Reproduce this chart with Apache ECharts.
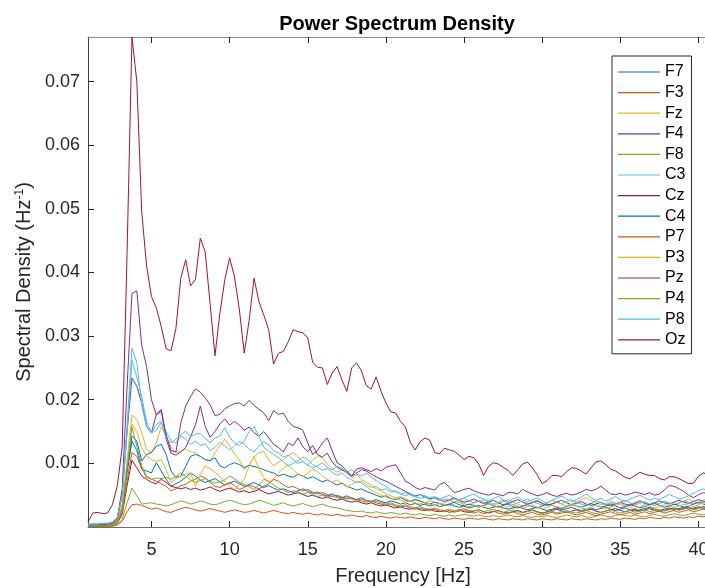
<!DOCTYPE html>
<html><head><meta charset="utf-8">
<script src="https://cdn.jsdelivr.net/npm/echarts@6/dist/echarts.min.js"></script>
<style>html,body{margin:0;padding:0;background:#fff}#c{width:705px;height:588px}</style>
</head><body><div id="c"></div>
<script>
const freq = [0.9375,1.25,1.5625,1.875,2.1875,2.5,2.8125,3.125,3.4375,3.75,4.0625,4.375,4.6875,5,
5.3125,5.625,5.9375,6.25,6.5625,6.875,7.1875,7.5,7.8125,8.125,8.4375,8.75,9.0625,9.375,9.6875,10,
10.3125,10.625,10.9375,11.25,11.5625,11.875,12.1875,12.5,12.8125,13.125,13.4375,13.75,14.0625,14.375,14.6875,15,
15.3125,15.625,15.9375,16.25,16.5625,16.875,17.1875,17.5,17.8125,18.125,18.4375,18.75,19.0625,19.375,19.6875,20,
20.3125,20.625,20.9375,21.25,21.5625,21.875,22.1875,22.5,22.8125,23.125,23.4375,23.75,24.0625,24.375,24.6875,25,
25.3125,25.625,25.9375,26.25,26.5625,26.875,27.1875,27.5,27.8125,28.125,28.4375,28.75,29.0625,29.375,29.6875,30,
30.3125,30.625,30.9375,31.25,31.5625,31.875,32.1875,32.5,32.8125,33.125,33.4375,33.75,34.0625,34.375,34.6875,35,
35.3125,35.625,35.9375,36.25,36.5625,36.875,37.1875,37.5,37.8125,38.125,38.4375,38.75,39.0625,39.375,39.6875,40,
40.3125,40.625,40.9375,41.25];

const channels = ['F7','F3','Fz','F4','F8','C3','Cz','C4','P7','P3','Pz','P4','P8','Oz'];
const colors = ['#0072BD','#D95319','#EDB120','#7E2F8E','#77AC30','#4DBEEE','#A2142F','#0072BD','#D95319','#EDB120','#7E2F8E','#77AC30','#4DBEEE','#A2142F'];
const xTicks = [5,10,15,20,25,30,35,40];
const yTicks = [0.01,0.02,0.03,0.04,0.05,0.06,0.07];

const F7 = [0.0002,0.0002,0.0002,0.0002,0.0003,0.0004,0.0008,0.0028,0.0085,0.0135,
0.0120,0.0091,0.0088,0.0085,0.0101,0.0088,0.0075,0.0064,0.0068,0.0072,
0.0078,0.0085,0.0080,0.0074,0.0070,0.0073,0.0076,0.0071,0.0066,0.0069,
0.0072,0.0068,0.0064,0.0067,0.0070,0.0066,0.0062,0.0065,0.0061,0.0058,
0.0060,0.0057,0.0054,0.0057,0.0060,0.0056,0.0053,0.0055,0.0051,0.0049,
0.0052,0.0048,0.0046,0.0049,0.0045,0.0043,0.0046,0.0042,0.0040,0.0043,
0.0040,0.0038,0.0041,0.0039,0.0036,0.0038,0.0035,0.0037,0.0034,0.0036,
0.0033,0.0035,0.0032,0.0034,0.0036,0.0033,0.0031,0.0033,0.0030,0.0032,
0.0034,0.0031,0.0029,0.0031,0.0033,0.0030,0.0028,0.0030,0.0032,0.0029,
0.0027,0.0029,0.0031,0.0028,0.0026,0.0028,0.0030,0.0027,0.0029,0.0031,
0.0028,0.0026,0.0028,0.0030,0.0027,0.0029,0.0031,0.0028,0.0026,0.0028,
0.0030,0.0027,0.0025,0.0027,0.0029,0.0031,0.0028,0.0026,0.0028,0.0030,
0.0027,0.0029,0.0031,0.0028,0.0030,0.0032,0.0029,0.0031,0.0033,0.0030];

const F3 = [0.0001,0.0001,0.0001,0.0001,0.0001,0.0001,0.0003,0.0009,0.0024,0.0035,
0.0036,0.0034,0.0031,0.0028,0.0030,0.0027,0.0024,0.0023,0.0026,0.0029,
0.0031,0.0029,0.0027,0.0025,0.0027,0.0029,0.0027,0.0025,0.0023,0.0025,
0.0027,0.0025,0.0023,0.0024,0.0026,0.0024,0.0022,0.0024,0.0026,0.0024,
0.0022,0.0021,0.0023,0.0021,0.0020,0.0022,0.0020,0.0019,0.0021,0.0019,
0.0018,0.0020,0.0018,0.0017,0.0019,0.0017,0.0016,0.0018,0.0016,0.0015,
0.0017,0.0015,0.0014,0.0016,0.0015,0.0014,0.0016,0.0014,0.0013,0.0015,
0.0014,0.0013,0.0015,0.0013,0.0012,0.0014,0.0013,0.0012,0.0014,0.0013,
0.0012,0.0014,0.0012,0.0011,0.0013,0.0012,0.0011,0.0013,0.0012,0.0011,
0.0013,0.0012,0.0011,0.0013,0.0012,0.0011,0.0013,0.0012,0.0011,0.0013,
0.0012,0.0011,0.0013,0.0012,0.0011,0.0013,0.0012,0.0014,0.0013,0.0012,
0.0014,0.0013,0.0012,0.0014,0.0013,0.0015,0.0014,0.0013,0.0015,0.0014,
0.0016,0.0015,0.0014,0.0016,0.0015,0.0017,0.0016,0.0018,0.0017,0.0016];

const Fz = [0.0003,0.0003,0.0003,0.0003,0.0004,0.0005,0.0010,0.0035,0.0105,0.0176,
0.0169,0.0148,0.0122,0.0117,0.0132,0.0158,0.0143,0.0125,0.0117,0.0119,
0.0122,0.0118,0.0117,0.0111,0.0106,0.0104,0.0117,0.0127,0.0138,0.0128,
0.0115,0.0105,0.0091,0.0098,0.0110,0.0117,0.0119,0.0105,0.0096,0.0102,
0.0106,0.0112,0.0117,0.0110,0.0103,0.0097,0.0105,0.0112,0.0108,0.0099,
0.0092,0.0086,0.0090,0.0084,0.0078,0.0082,0.0075,0.0070,0.0066,0.0060,
0.0057,0.0052,0.0049,0.0046,0.0048,0.0044,0.0041,0.0043,0.0040,0.0038,
0.0041,0.0039,0.0036,0.0038,0.0041,0.0044,0.0040,0.0037,0.0035,0.0038,
0.0042,0.0039,0.0036,0.0034,0.0037,0.0040,0.0043,0.0039,0.0036,0.0033,
0.0036,0.0039,0.0042,0.0038,0.0035,0.0037,0.0040,0.0036,0.0033,0.0036,
0.0039,0.0043,0.0046,0.0042,0.0038,0.0035,0.0037,0.0041,0.0038,0.0035,
0.0033,0.0036,0.0039,0.0042,0.0039,0.0036,0.0034,0.0037,0.0040,0.0038,
0.0035,0.0038,0.0041,0.0044,0.0040,0.0037,0.0039,0.0042,0.0045,0.0043];

const F4 = [0.0003,0.0003,0.0003,0.0003,0.0004,0.0005,0.0012,0.0050,0.0150,0.0234,
0.0221,0.0195,0.0158,0.0148,0.0177,0.0185,0.0138,0.0116,0.0113,0.0118,
0.0125,0.0142,0.0160,0.0190,0.0158,0.0141,0.0150,0.0162,0.0170,0.0160,
0.0166,0.0160,0.0152,0.0157,0.0148,0.0143,0.0150,0.0140,0.0130,0.0125,
0.0118,0.0132,0.0128,0.0140,0.0126,0.0118,0.0128,0.0114,0.0110,0.0116,
0.0102,0.0094,0.0090,0.0086,0.0080,0.0085,0.0090,0.0088,0.0083,0.0079,
0.0075,0.0072,0.0068,0.0064,0.0060,0.0056,0.0052,0.0049,0.0051,0.0047,
0.0044,0.0046,0.0043,0.0040,0.0043,0.0046,0.0042,0.0039,0.0041,0.0044,
0.0040,0.0037,0.0039,0.0042,0.0038,0.0035,0.0037,0.0040,0.0043,0.0039,
0.0036,0.0038,0.0041,0.0037,0.0034,0.0036,0.0039,0.0042,0.0038,0.0035,
0.0037,0.0040,0.0036,0.0034,0.0036,0.0039,0.0035,0.0033,0.0036,0.0039,
0.0036,0.0034,0.0037,0.0040,0.0037,0.0035,0.0038,0.0041,0.0038,0.0036,
0.0039,0.0042,0.0039,0.0037,0.0040,0.0043,0.0040,0.0038,0.0041,0.0044];

const F8 = [0.0001,0.0001,0.0001,0.0001,0.0001,0.0002,0.0004,0.0012,0.0038,0.0061,
0.0049,0.0036,0.0037,0.0038,0.0036,0.0035,0.0033,0.0035,0.0038,0.0041,
0.0039,0.0036,0.0038,0.0041,0.0039,0.0036,0.0035,0.0037,0.0040,0.0042,
0.0040,0.0037,0.0035,0.0036,0.0039,0.0042,0.0040,0.0037,0.0034,0.0036,
0.0038,0.0035,0.0033,0.0035,0.0037,0.0034,0.0032,0.0034,0.0036,0.0033,
0.0031,0.0030,0.0028,0.0026,0.0025,0.0024,0.0025,0.0023,0.0022,0.0024,
0.0022,0.0021,0.0023,0.0021,0.0020,0.0022,0.0020,0.0019,0.0021,0.0019,
0.0018,0.0020,0.0018,0.0017,0.0019,0.0017,0.0018,0.0020,0.0018,0.0017,
0.0019,0.0017,0.0016,0.0018,0.0016,0.0017,0.0019,0.0017,0.0016,0.0018,
0.0016,0.0015,0.0017,0.0016,0.0018,0.0016,0.0015,0.0017,0.0019,0.0017,
0.0016,0.0018,0.0016,0.0015,0.0017,0.0019,0.0017,0.0016,0.0018,0.0020,
0.0018,0.0017,0.0019,0.0017,0.0016,0.0018,0.0020,0.0018,0.0017,0.0019,
0.0021,0.0019,0.0018,0.0020,0.0022,0.0020,0.0019,0.0021,0.0023,0.0021];

const C3 = [0.0004,0.0005,0.0005,0.0005,0.0006,0.0007,0.0014,0.0048,0.0150,0.0262,
0.0235,0.0205,0.0165,0.0148,0.0152,0.0164,0.0150,0.0135,0.0132,0.0143,
0.0138,0.0130,0.0135,0.0128,0.0131,0.0120,0.0125,0.0133,0.0128,0.0121,
0.0127,0.0135,0.0130,0.0122,0.0118,0.0127,0.0134,0.0129,0.0120,0.0116,
0.0110,0.0113,0.0106,0.0100,0.0103,0.0097,0.0093,0.0096,0.0101,0.0094,
0.0090,0.0095,0.0092,0.0086,0.0090,0.0083,0.0080,0.0085,0.0078,0.0073,
0.0068,0.0064,0.0058,0.0055,0.0052,0.0049,0.0052,0.0048,0.0045,0.0047,
0.0043,0.0045,0.0041,0.0044,0.0042,0.0039,0.0042,0.0045,0.0041,0.0038,
0.0040,0.0043,0.0039,0.0036,0.0039,0.0042,0.0038,0.0035,0.0038,0.0041,
0.0044,0.0040,0.0037,0.0035,0.0038,0.0042,0.0039,0.0036,0.0040,0.0043,
0.0039,0.0036,0.0034,0.0037,0.0041,0.0038,0.0035,0.0038,0.0036,0.0039,
0.0042,0.0038,0.0035,0.0037,0.0040,0.0036,0.0034,0.0037,0.0040,0.0038,
0.0035,0.0037,0.0041,0.0039,0.0036,0.0038,0.0042,0.0045,0.0043,0.0040];

const Cz = [0.0002,0.0002,0.0002,0.0002,0.0002,0.0003,0.0006,0.0020,0.0065,0.0105,
0.0093,0.0080,0.0075,0.0070,0.0068,0.0075,0.0070,0.0064,0.0062,0.0060,
0.0062,0.0059,0.0061,0.0058,0.0060,0.0063,0.0059,0.0056,0.0059,0.0061,
0.0058,0.0055,0.0057,0.0054,0.0056,0.0059,0.0055,0.0052,0.0054,0.0056,
0.0053,0.0050,0.0052,0.0054,0.0051,0.0048,0.0050,0.0047,0.0045,0.0047,
0.0044,0.0042,0.0044,0.0041,0.0039,0.0041,0.0038,0.0036,0.0038,0.0035,
0.0033,0.0035,0.0032,0.0030,0.0032,0.0029,0.0028,0.0030,0.0027,0.0026,
0.0028,0.0025,0.0024,0.0026,0.0023,0.0025,0.0027,0.0024,0.0023,0.0025,
0.0027,0.0024,0.0022,0.0024,0.0026,0.0023,0.0022,0.0024,0.0026,0.0023,
0.0025,0.0027,0.0024,0.0022,0.0024,0.0026,0.0028,0.0025,0.0023,0.0025,
0.0027,0.0024,0.0026,0.0028,0.0025,0.0023,0.0025,0.0027,0.0029,0.0026,
0.0024,0.0026,0.0028,0.0025,0.0027,0.0029,0.0026,0.0024,0.0026,0.0028,
0.0030,0.0027,0.0029,0.0031,0.0028,0.0030,0.0032,0.0029,0.0031,0.0033];

const C4 = [0.0002,0.0002,0.0002,0.0003,0.0003,0.0004,0.0008,0.0030,0.0090,0.0143,
0.0135,0.0104,0.0114,0.0117,0.0127,0.0130,0.0114,0.0088,0.0078,0.0080,
0.0095,0.0111,0.0114,0.0111,0.0106,0.0104,0.0109,0.0096,0.0093,0.0098,
0.0101,0.0098,0.0093,0.0097,0.0095,0.0093,0.0090,0.0087,0.0085,0.0080,
0.0083,0.0080,0.0078,0.0083,0.0080,0.0076,0.0079,0.0075,0.0071,0.0074,
0.0070,0.0066,0.0069,0.0064,0.0061,0.0058,0.0060,0.0056,0.0053,0.0050,
0.0047,0.0049,0.0045,0.0043,0.0046,0.0042,0.0040,0.0043,0.0041,0.0038,
0.0036,0.0039,0.0037,0.0034,0.0036,0.0039,0.0035,0.0033,0.0036,0.0034,
0.0031,0.0034,0.0037,0.0033,0.0031,0.0034,0.0036,0.0032,0.0030,0.0033,
0.0035,0.0032,0.0030,0.0033,0.0036,0.0034,0.0031,0.0029,0.0032,0.0035,
0.0033,0.0031,0.0034,0.0037,0.0034,0.0031,0.0033,0.0036,0.0033,0.0030,
0.0032,0.0035,0.0033,0.0030,0.0032,0.0035,0.0038,0.0034,0.0031,0.0033,
0.0036,0.0034,0.0031,0.0033,0.0036,0.0039,0.0036,0.0033,0.0035,0.0038];

const P7 = [0.0002,0.0002,0.0002,0.0002,0.0002,0.0003,0.0006,0.0022,0.0072,0.0117,
0.0111,0.0092,0.0078,0.0075,0.0072,0.0068,0.0064,0.0057,0.0060,0.0065,
0.0067,0.0072,0.0075,0.0080,0.0077,0.0070,0.0064,0.0062,0.0066,0.0070,
0.0065,0.0059,0.0062,0.0066,0.0063,0.0060,0.0064,0.0068,0.0075,0.0072,
0.0066,0.0062,0.0064,0.0060,0.0057,0.0059,0.0055,0.0052,0.0054,0.0051,
0.0048,0.0050,0.0047,0.0044,0.0046,0.0043,0.0041,0.0039,0.0041,0.0038,
0.0036,0.0034,0.0036,0.0033,0.0031,0.0033,0.0030,0.0028,0.0030,0.0027,
0.0026,0.0028,0.0025,0.0024,0.0026,0.0023,0.0025,0.0027,0.0024,0.0022,
0.0024,0.0021,0.0023,0.0025,0.0022,0.0020,0.0022,0.0024,0.0021,0.0019,
0.0021,0.0023,0.0020,0.0019,0.0021,0.0023,0.0020,0.0022,0.0024,0.0021,
0.0019,0.0021,0.0023,0.0020,0.0018,0.0020,0.0022,0.0024,0.0021,0.0019,
0.0021,0.0023,0.0020,0.0022,0.0024,0.0021,0.0023,0.0025,0.0022,0.0024,
0.0026,0.0023,0.0025,0.0027,0.0024,0.0026,0.0028,0.0025,0.0027,0.0029];

const P3 = [0.0002,0.0003,0.0003,0.0003,0.0003,0.0004,0.0009,0.0033,0.0098,0.0162,
0.0150,0.0124,0.0112,0.0106,0.0103,0.0106,0.0090,0.0070,0.0076,0.0080,
0.0083,0.0085,0.0064,0.0083,0.0096,0.0092,0.0086,0.0079,0.0072,0.0064,
0.0059,0.0067,0.0075,0.0096,0.0111,0.0091,0.0078,0.0070,0.0076,0.0085,
0.0092,0.0098,0.0090,0.0083,0.0079,0.0085,0.0091,0.0087,0.0080,0.0075,
0.0070,0.0074,0.0068,0.0063,0.0067,0.0072,0.0069,0.0063,0.0058,0.0054,
0.0050,0.0047,0.0044,0.0046,0.0042,0.0039,0.0041,0.0038,0.0036,0.0039,
0.0036,0.0034,0.0037,0.0035,0.0033,0.0036,0.0039,0.0035,0.0032,0.0034,
0.0031,0.0033,0.0036,0.0034,0.0031,0.0029,0.0032,0.0035,0.0033,0.0030,
0.0032,0.0035,0.0031,0.0029,0.0031,0.0034,0.0032,0.0030,0.0033,0.0036,
0.0033,0.0030,0.0028,0.0031,0.0034,0.0032,0.0029,0.0031,0.0034,0.0037,
0.0034,0.0031,0.0029,0.0032,0.0035,0.0033,0.0030,0.0032,0.0035,0.0033,
0.0031,0.0033,0.0036,0.0034,0.0032,0.0035,0.0038,0.0036,0.0034,0.0037];

const Pz = [0.0003,0.0003,0.0003,0.0004,0.0004,0.0006,0.0014,0.0060,0.0220,0.0367,
0.0371,0.0285,0.0252,0.0200,0.0176,0.0182,0.0145,0.0120,0.0118,0.0163,
0.0190,0.0205,0.0217,0.0212,0.0203,0.0192,0.0175,0.0177,0.0186,0.0190,
0.0194,0.0195,0.0190,0.0199,0.0191,0.0185,0.0179,0.0167,0.0183,0.0177,
0.0179,0.0166,0.0158,0.0156,0.0152,0.0132,0.0114,0.0120,0.0132,0.0140,
0.0120,0.0101,0.0096,0.0088,0.0080,0.0091,0.0093,0.0090,0.0087,0.0092,
0.0088,0.0094,0.0096,0.0098,0.0085,0.0072,0.0068,0.0062,0.0059,0.0062,
0.0060,0.0058,0.0067,0.0070,0.0062,0.0054,0.0056,0.0059,0.0061,0.0057,
0.0054,0.0052,0.0050,0.0053,0.0051,0.0049,0.0054,0.0054,0.0052,0.0059,
0.0055,0.0052,0.0049,0.0051,0.0054,0.0050,0.0048,0.0051,0.0053,0.0050,
0.0052,0.0055,0.0059,0.0057,0.0059,0.0064,0.0058,0.0052,0.0051,0.0053,
0.0050,0.0052,0.0055,0.0053,0.0051,0.0054,0.0050,0.0052,0.0058,0.0065,
0.0064,0.0060,0.0056,0.0050,0.0046,0.0051,0.0054,0.0052,0.0055,0.0057];

const P4 = [0.0002,0.0002,0.0002,0.0002,0.0003,0.0003,0.0007,0.0028,0.0092,0.0157,
0.0127,0.0096,0.0080,0.0075,0.0077,0.0076,0.0078,0.0075,0.0079,0.0085,
0.0080,0.0074,0.0070,0.0073,0.0076,0.0072,0.0069,0.0071,0.0074,0.0080,
0.0076,0.0070,0.0067,0.0063,0.0059,0.0066,0.0075,0.0072,0.0066,0.0061,
0.0058,0.0054,0.0057,0.0055,0.0052,0.0054,0.0051,0.0048,0.0050,0.0047,
0.0049,0.0046,0.0044,0.0047,0.0044,0.0042,0.0044,0.0041,0.0039,0.0041,
0.0038,0.0036,0.0038,0.0035,0.0033,0.0035,0.0032,0.0030,0.0032,0.0029,
0.0028,0.0030,0.0027,0.0026,0.0028,0.0025,0.0027,0.0029,0.0026,0.0025,
0.0027,0.0024,0.0026,0.0028,0.0025,0.0023,0.0025,0.0027,0.0024,0.0022,
0.0024,0.0026,0.0023,0.0021,0.0023,0.0025,0.0022,0.0024,0.0026,0.0023,
0.0022,0.0024,0.0026,0.0023,0.0021,0.0023,0.0025,0.0027,0.0024,0.0022,
0.0024,0.0026,0.0023,0.0025,0.0027,0.0024,0.0026,0.0028,0.0025,0.0027,
0.0029,0.0026,0.0028,0.0030,0.0027,0.0029,0.0031,0.0033,0.0030,0.0032];

const P8 = [0.0005,0.0005,0.0005,0.0006,0.0006,0.0008,0.0015,0.0050,0.0160,0.0281,
0.0258,0.0192,0.0158,0.0148,0.0161,0.0166,0.0138,0.0132,0.0138,0.0145,
0.0151,0.0142,0.0146,0.0147,0.0139,0.0132,0.0140,0.0143,0.0156,0.0141,
0.0132,0.0128,0.0135,0.0150,0.0158,0.0142,0.0125,0.0119,0.0114,0.0109,
0.0102,0.0096,0.0100,0.0104,0.0110,0.0106,0.0098,0.0094,0.0089,0.0092,
0.0086,0.0081,0.0085,0.0078,0.0074,0.0070,0.0072,0.0066,0.0062,0.0064,
0.0058,0.0060,0.0055,0.0057,0.0052,0.0054,0.0050,0.0047,0.0051,0.0049,
0.0046,0.0048,0.0044,0.0047,0.0050,0.0045,0.0043,0.0046,0.0049,0.0052,
0.0047,0.0044,0.0041,0.0045,0.0048,0.0043,0.0040,0.0044,0.0047,0.0042,
0.0039,0.0043,0.0046,0.0041,0.0038,0.0042,0.0045,0.0049,0.0044,0.0040,
0.0043,0.0047,0.0052,0.0046,0.0042,0.0045,0.0041,0.0044,0.0048,0.0043,
0.0040,0.0044,0.0047,0.0050,0.0046,0.0042,0.0045,0.0043,0.0047,0.0051,
0.0048,0.0044,0.0046,0.0049,0.0053,0.0057,0.0060,0.0056,0.0052,0.0055];

const Oz = [0.0008,0.0022,0.0023,0.0021,0.0022,0.0035,0.0065,0.0125,0.0430,0.0770,
0.0700,0.0495,0.0410,0.0362,0.0344,0.0315,0.0280,0.0277,0.0312,0.0391,
0.0420,0.0379,0.0389,0.0454,0.0432,0.0351,0.0269,0.0336,0.0388,0.0423,
0.0393,0.0341,0.0273,0.0325,0.0391,0.0354,0.0333,0.0310,0.0256,0.0273,
0.0276,0.0291,0.0310,0.0307,0.0305,0.0297,0.0259,0.0251,0.0250,0.0224,
0.0242,0.0252,0.0231,0.0213,0.0250,0.0258,0.0245,0.0222,0.0217,0.0236,
0.0213,0.0195,0.0181,0.0179,0.0166,0.0157,0.0133,0.0121,0.0134,0.0140,
0.0136,0.0117,0.0115,0.0124,0.0121,0.0119,0.0113,0.0106,0.0111,0.0109,
0.0099,0.0081,0.0095,0.0101,0.0099,0.0094,0.0089,0.0081,0.0090,0.0099,
0.0102,0.0093,0.0082,0.0068,0.0073,0.0081,0.0081,0.0079,0.0087,0.0093,
0.0092,0.0088,0.0083,0.0093,0.0102,0.0104,0.0098,0.0091,0.0088,0.0083,
0.0078,0.0076,0.0081,0.0086,0.0083,0.0081,0.0081,0.0076,0.0074,0.0079,
0.0079,0.0076,0.0072,0.0068,0.0069,0.0080,0.0085,0.0082,0.0080,0.0079];

const seriesValues = [F7,F3,Fz,F4,F8,C3,Cz,C4,P7,P3,Pz,P4,P8,Oz];

const FONT = '"Liberation Sans", Arial, sans-serif';
const TXT = '#262626';

const chart = echarts.init(document.getElementById('c'), null, {renderer: 'canvas'});
const series = channels.map((name, i) => ({
  name: name,
  type: 'line',
  xAxisIndex: 0, yAxisIndex: 0,
  data: freq.map((f, j) => [f, seriesValues[i][j]]),
  symbol: 'none',
  showSymbol: false,
  clip: true,
  lineStyle: {width: 1, color: colors[i]},
  itemStyle: {color: colors[i]},
  emphasis: {disabled: true},
  animation: false
}));

chart.setOption({
  animation: false,
  backgroundColor: '#ffffff',
  title: {
    text: 'Power Spectrum Density',
    left: 392, top: 9, textAlign: 'center',
    textStyle: {fontFamily: FONT, fontSize: 20, fontWeight: 'bold', color: '#000'}
  },
  legend: {
    orient: 'vertical',
    left: 612, top: 56,
    padding: [8, 6, 6, 6],
    icon: 'rect',
    itemWidth: 42, itemHeight: 1.2, itemGap: 4.6,
    backgroundColor: '#ffffff',
    borderColor: '#262626', borderWidth: 1,
    textStyle: {fontFamily: FONT, fontSize: 16, color: '#000', lineHeight: 14},
    data: channels
  },
  grid: {left: 88, right: -13, top: 37, bottom: 61, containLabel: false, outerBoundsMode: 'none'},
  xAxis: [{
    type: 'value', min: 0.9375, max: 41.25,
    position: 'bottom',
    name: 'Frequency [Hz]', nameLocation: 'middle', nameGap: 39,
    nameTextStyle: {fontFamily: FONT, fontSize: 20, color: TXT},
    axisLine: {show: true, onZero: false, lineStyle: {color: '#6e6e6e', width: 1}},
    axisTick: {show: true, inside: true, length: 6, customValues: xTicks, lineStyle: {color: '#262626'}},
    axisLabel: {customValues: xTicks, margin: 14, fontFamily: FONT, fontSize: 18, color: TXT},
    splitLine: {show: false}
  }, {
    type: 'value', min: 0.9375, max: 41.25,
    position: 'top',
    axisLine: {show: true, onZero: false, lineStyle: {color: '#8a8a8a', width: 1}},
    axisTick: {show: true, inside: true, length: 6, customValues: xTicks, lineStyle: {color: '#262626'}},
    axisLabel: {show: false},
    splitLine: {show: false}
  }],
  yAxis: [{
    type: 'value', min: 0, max: 0.077, interval: 0.01,
    position: 'left',
    name: 'Spectral Density (Hz{sup|-1})', nameLocation: 'middle', nameGap: 52, nameRotate: 90,
    nameTextStyle: {fontFamily: FONT, fontSize: 20, color: TXT,
      rich: {sup: {fontFamily: FONT, fontSize: 12, color: TXT, verticalAlign: 'top', padding: [0, 0, 9, 0]}}},
    axisLine: {show: true, onZero: false, lineStyle: {color: '#404040', width: 1}},
    axisTick: {show: true, inside: true, length: 6, customValues: yTicks, lineStyle: {color: '#262626'}},
    axisLabel: {customValues: yTicks, margin: 8, fontFamily: FONT, fontSize: 18, color: TXT,
      formatter: v => v.toFixed(2)},
    splitLine: {show: false}
  }, {
    type: 'value', min: 0, max: 0.077, interval: 0.01,
    position: 'right',
    axisLine: {show: true, onZero: false, lineStyle: {color: '#404040'}},
    axisTick: {show: false}, axisLabel: {show: false}, splitLine: {show: false}
  }],
  series: series
});
</script></body></html>
